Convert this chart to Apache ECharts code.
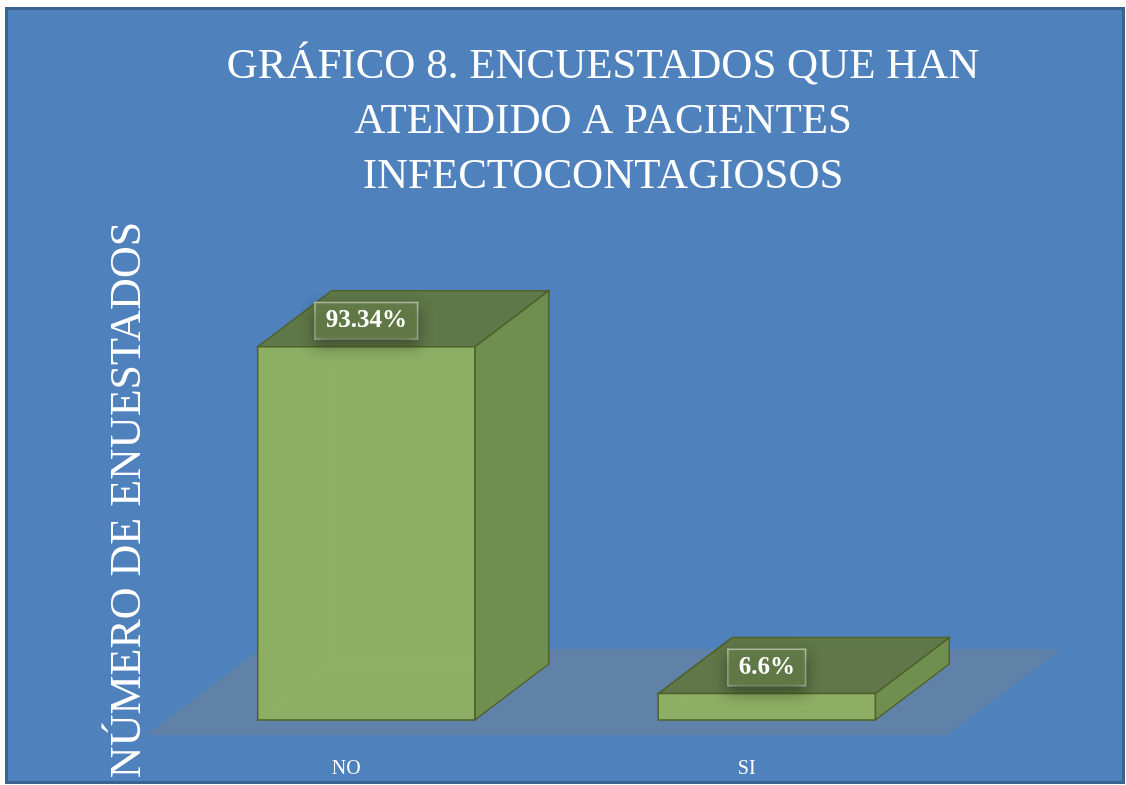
<!DOCTYPE html>
<html>
<head>
<meta charset="utf-8">
<script src="https://cdn.jsdelivr.net/npm/echarts@6/dist/echarts.min.js"></script>
<style>
  html, body { margin: 0; padding: 0; background: #fff; }
  #chart { width: 1126px; height: 785px; }
</style>
</head>
<body>
<div id="chart"></div>
<script>
// data
const categories = ['NO', 'SI'];
const percentValues = [93.34, 6.6];
const percentLabels = ['93.34%', '6.6%'];

const titleText = 'GRÁFICO 8. ENCUESTADOS QUE HAN\nATENDIDO A PACIENTES\nINFECTOCONTAGIOSOS';
const yTitle = 'NÚMERO DE ENUESTADOS';

const serif = '"Liberation Serif", "DejaVu Serif", serif';

// 3d look
const depth = [74, -56];

function renderBar(params, api) {
  const i = api.value(0);
  const v = api.value(1);
  const base = api.coord([i, 0]);
  const top = api.coord([i, v]);
  const bw = api.size([1, 0])[0] * 0.542;
  const x0 = base[0] - bw / 2, x1 = base[0] + bw / 2;
  const y0 = base[1], y1 = top[1];
  const dx = depth[0], dy = depth[1];
  const edge = '#4f6228';
  return {
    type: 'group',
    children: [
      // hidden back edges, seen through
      { type: 'polyline', shape: { points: [[x0, y0], [x0 + dx, y0 + dy], [x1 + dx, y0 + dy]] },
        style: { stroke: 'rgba(150,180,60,0.5)', lineWidth: 1, fill: null } },
      { type: 'line', shape: { x1: x0 + dx, y1: y0 + dy, x2: x0 + dx, y2: y1 + dy },
        style: { stroke: 'rgba(150,180,60,0.5)', lineWidth: 1 } },
      // side
      { type: 'polygon', shape: { points: [[x1, y0], [x1 + dx, y0 + dy], [x1 + dx, y1 + dy], [x1, y1]] },
        style: { fill: 'rgba(112,143,76,0.97)', stroke: edge, lineWidth: 1.5 } },
      // top
      { type: 'polygon', shape: { points: [[x0, y1], [x1, y1], [x1 + dx, y1 + dy], [x0 + dx, y1 + dy]] },
        style: { fill: 'rgba(96,120,70,0.97)', stroke: edge, lineWidth: 1.5 } },
      // front
      { type: 'rect', shape: { x: x0, y: y1, width: bw, height: y0 - y1 },
        style: { fill: 'rgba(143,177,98,0.96)', stroke: edge, lineWidth: 1.5 } },
      // value label
      { type: 'text', x: base[0], y: y1 + dy / 2 + 2,
        style: {
          text: percentLabels[i], fill: '#fff', font: 'bold 25px ' + serif,
          align: 'center', verticalAlign: 'middle',
          backgroundColor: 'rgba(98,122,72,0.95)', borderColor: 'rgba(220,230,210,0.7)', borderWidth: 1.5,
          padding: [6, 10, 4, 10], shadowBlur: 14, shadowColor: 'rgba(30,40,20,0.55)', shadowOffsetY: 6
        } }
    ]
  };
}

function renderFloor(params, api) {
  const cs = params.coordSys;
  const y0 = api.coord([0, 0])[1];
  const fx = -20, fy = 15, bx = 94, by = -71;
  return {
    type: 'polygon',
    shape: { points: [
      [cs.x + fx, y0 + fy], [cs.x + cs.width + fx, y0 + fy],
      [cs.x + cs.width + bx, y0 + by], [cs.x + bx, y0 + by]
    ] },
    style: { fill: 'rgba(128,128,128,0.35)' }
  };
}

const chart = echarts.init(document.getElementById('chart'), null, { renderer: 'canvas' });
chart.setOption({
  animation: false,
  backgroundColor: '#fff',
  graphic: [
    { type: 'rect', z: -10, shape: { x: 6.5, y: 8.5, width: 1117, height: 774 },
      style: { fill: '#4f81bd', stroke: '#3c6291', lineWidth: 3 } },
    { type: 'text', x: 128, y: 500, rotation: Math.PI / 2,
      style: { text: yTitle, fill: '#fff', font: '44px ' + serif, align: 'center', verticalAlign: 'middle' } }
  ],
  title: {
    text: titleText,
    left: 598,
    textAlign: 'center',
    top: 34,
    textStyle: { color: '#fff', fontFamily: serif, fontWeight: 'normal', fontSize: 43, lineHeight: 55 }
  },
  grid: { left: 166, width: 801, top: 320, height: 400 },
  xAxis: {
    type: 'category',
    data: categories,
    axisLine: { show: false },
    axisTick: { show: false },
    axisLabel: { color: '#fff', fontFamily: serif, fontSize: 20, margin: 39, padding: [0, 40, 0, 0] }
  },
  yAxis: { type: 'value', min: 0, max: 100, show: false, splitLine: { show: false } },
  series: [
    { type: 'custom', renderItem: renderFloor, data: [[0]], z: 1, silent: true },
    { type: 'custom', renderItem: renderBar, data: categories.map((c, i) => [i, percentValues[i]]), z: 2 }
  ]
});
</script>
</body>
</html>
